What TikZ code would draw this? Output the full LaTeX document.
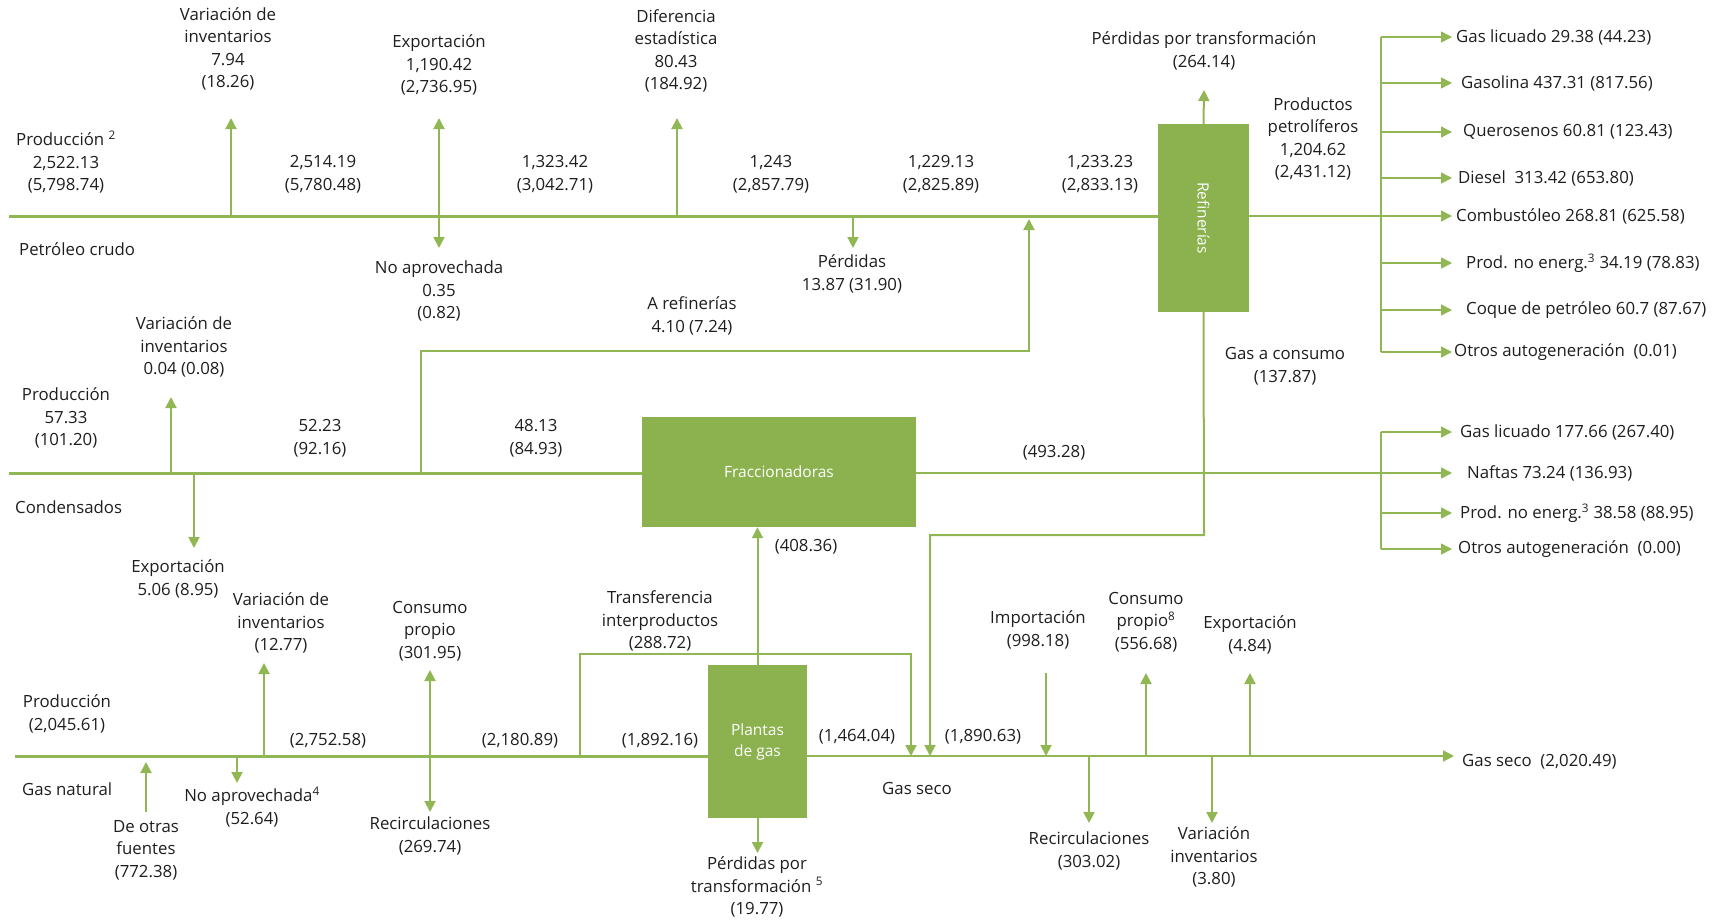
\documentclass[tikz,border=0pt]{standalone}
\usepackage{fontspec}
\setmainfont{Open Sans}
\usetikzlibrary{arrows.meta}
\definecolor{gline}{RGB}{144,183,84}
\definecolor{gbox}{RGB}{139,178,78}
\definecolor{txt}{RGB}{30,30,30}
\begin{document}
\begin{tikzpicture}[x=1pt,y=-1pt,
  lab/.style={font=\fontsize{16.8}{22.5}\selectfont, text=txt, align=center, inner sep=0pt},
  labw/.style={lab, anchor=west},
  mainln/.style={draw=gline, line width=3pt},
  midln/.style={draw=gline, line width=2pt},
  thinln/.style={draw=gline, line width=1.5pt},
  arr/.style={-{Triangle[width=11pt,length=11pt]}},
  box/.style={fill=gbox, draw=none, inner sep=0pt},
  boxtxt/.style={text=white, font=\fontsize{15.5}{21}\selectfont, align=center, inner sep=0pt}
]
\useasboundingbox (0,0) rectangle (1730,921);

% ---------- boxes ----------
\node[box, minimum width=91pt, minimum height=188pt] (ref) at (1203.5,218) {};
\node[boxtxt, rotate=-90] (reft) at (ref.center) {Refinerías};
\node[box, minimum width=274pt, minimum height=110pt] (fr) at (779,472) {};
\node[boxtxt] (frt) at (fr.center) {Fraccionadoras};
\node[box, minimum width=99pt, minimum height=153pt] (pl) at (757.5,741.5) {};
\node[boxtxt] (plt) at (pl.center) {Plantas\\de gas};

% ---------- crude oil ----------
\coordinate (c0) at (9,216);
\coordinate (cvi) at (231,216);  \coordinate (cviT) at (231,118);
\coordinate (cex) at (439,216);  \coordinate (cexT) at (439,118); \coordinate (cexB) at (439,248);
\coordinate (cdf) at (677,216);  \coordinate (cdfT) at (677,118);
\coordinate (cpe) at (853,216);  \coordinate (cpeB) at (853,248);
\coordinate (rtip) at (1452,0);
\coordinate (rbx) at (1381,0);
\coordinate (pptT) at (1204,90);

\draw[mainln] (c0) -- (ref.west |- c0);
\draw[midln,arr] (cvi) -- (cviT);
\draw[midln,arr] (cex) -- (cexT);
\draw[midln,arr] (cex) -- (cexB);
\draw[midln,arr] (cdf) -- (cdfT);
\draw[midln,arr] (cpe) -- (cpeB);
\draw[midln,arr] (ref.north) -- (pptT);

\node[lab] (l_vi1) at (228,49) {Variación de\\inventarios\\7.94\\(18.26)};
\node[lab] (l_ex1) at (439,65) {Exportación\\1,190.42\\(2,736.95)};
\node[lab] (l_na1) at (439,291) {No aprovechada\\0.35\\(0.82)};
\node[lab] (l_dif) at (676,51) {Diferencia\\estadística\\80.43\\(184.92)};
\node[lab] (l_pr1) at (66,162) {Producción \textsuperscript{2}\\2,522.13\\(5,798.74)};
\node[lab] (l_f1) at (323,174) {2,514.19\\(5,780.48)};
\node[lab] (l_f2) at (555,174) {1,323.42\\(3,042.71)};
\node[lab] (l_f3) at (771,174) {1,243\\(2,857.79)};
\node[lab] (l_f4) at (941,174) {1,229.13\\(2,825.89)};
\node[lab] (l_f5) at (1100,174) {1,233.23\\(2,833.13)};
\node[labw] (l_pc) at (19,249) {Petróleo crudo};
\node[lab] (l_pe) at (852,274) {Pérdidas\\13.87 (31.90)};
\node[lab] (l_ar) at (692,316) {A refinerías\\4.10 (7.24)};
\node[lab] (l_ppt) at (1204,51) {Pérdidas por transformación\\(264.14)};
\node[lab] (l_pp) at (1313,139) {Productos\\petrolíferos\\1,204.62\\(2,431.12)};
\node[lab] (l_gc) at (1285,366) {Gas a consumo\\(137.87)};

% refinery outputs
\node[labw] (o1) at (1456,37)  {Gas licuado 29.38 (44.23)};
\node[labw] (o2) at (1461,83)  {Gasolina 437.31 (817.56)};
\node[labw] (o3) at (1463,132) {Querosenos 60.81 (123.43)};
\node[labw] (o4) at (1458,178) {Diesel\ \ 313.42 (653.80)};
\node[labw] (o5) at (1456,216) {Combustóleo 268.81 (625.58)};
\node[labw] (o6) at (1466,263) {Prod. no energ.\textsuperscript{3} 34.19 (78.83)};
\node[labw] (o7) at (1466,310) {Coque de petróleo 60.7 (87.67)};
\node[labw] (o8) at (1454,352) {Otros autogeneración\ \ (0.01)};

\draw[thinln,arr] (ref.east |- c0) -- (rtip |- c0);
\draw[thinln] (rbx |- o1.west) -- (rbx |- o8.west);
\foreach \o in {o1,o2,o3,o4,o6,o7,o8}{
  \draw[thinln,arr] (rbx |- \o.west) -- (rtip |- \o.west);
}

% ---------- condensados ----------
\coordinate (k0) at (9,473);
\coordinate (kvi) at (171,473); \coordinate (kviT) at (171,397);
\coordinate (kex) at (194,473); \coordinate (kexB) at (194,548);
\coordinate (kar) at (421,473); \coordinate (kar1) at (421,351);
\coordinate (kar2) at (1029,351); \coordinate (karT) at (1029,219);
\coordinate (gc1) at (1204,535); \coordinate (gc2) at (930,535);

\draw[mainln] (k0) -- (fr.west |- k0);
\draw[midln,arr] (kvi) -- (kviT);
\draw[midln,arr] (kex) -- (kexB);
\draw[midln,arr] (kar) -- (kar1) -- (kar2) -- (karT);
\draw[thinln,arr] (fr.east |- k0) -- (rtip |- k0);

\node[lab] (l_pr2) at (66,418) {Producción\\57.33\\(101.20)};
\node[lab] (l_vi2) at (184,347) {Variación de\\inventarios\\0.04 (0.08)};
\node[lab] (l_k1) at (320,438) {52.23\\(92.16)};
\node[lab] (l_k2) at (536,438) {48.13\\(84.93)};
\node[labw] (l_cd) at (15,507) {Condensados};
\node[lab] (l_ex2) at (178,579) {Exportación\\5.06 (8.95)};
\node[lab] (l_k3) at (1054,453) {(493.28)};

\node[labw] (p1) at (1460,432) {Gas licuado 177.66 (267.40)};
\node[labw] (p2) at (1467,473) {Naftas 73.24 (136.93)};
\node[labw] (p3) at (1460,513) {Prod. no energ.\textsuperscript{3} 38.58 (88.95)};
\node[labw] (p4) at (1458,549) {Otros autogeneración\ \ (0.00)};
\draw[thinln] (rbx |- p1.west) -- (rbx |- p4.west);
\foreach \o in {p1,p3,p4}{
  \draw[thinln,arr] (rbx |- \o.west) -- (rtip |- \o.west);
}

% ---------- gas natural ----------
\coordinate (g0) at (15,756);
\coordinate (gtip) at (1454,756);
\coordinate (gdo) at (146,812);  \coordinate (gdoT) at (146,762);
\coordinate (gna) at (237,756);  \coordinate (gnaB) at (237,783);
\coordinate (gvi) at (264,756);  \coordinate (gviT) at (264,663);
\coordinate (gcp) at (430,756);  \coordinate (gcpT) at (430,670); \coordinate (gcpB) at (430,812);
\coordinate (gtr) at (580,756);  \coordinate (gtr1) at (580,654);
\coordinate (gtr2) at (911,654); \coordinate (gtrT) at (911,756);
\coordinate (gcT) at (930,756);
\coordinate (gppB) at (757.5,853);
\coordinate (gim) at (1046,673); \coordinate (gimT) at (1046,756);
\coordinate (grc) at (1089,756); \coordinate (grcB) at (1089,823);
\coordinate (gc8) at (1146,756); \coordinate (gc8T) at (1146,673);
\coordinate (gv2) at (1212,756); \coordinate (gv2B) at (1212,823);
\coordinate (gx) at (1250,756);  \coordinate (gxT) at (1250,673);

\draw[mainln] (g0) -- (pl.west |- g0);
\draw[midln,arr] (pl.east |- g0) -- (gtip);
\draw[midln,arr] (gdo) -- (gdoT);
\draw[midln,arr] (gna) -- (gnaB);
\draw[midln,arr] (gvi) -- (gviT);
\draw[midln,arr] (gcp) -- (gcpT);
\draw[midln,arr] (gcp) -- (gcpB);
\draw[midln,arr] (gtr) -- (gtr1) -- (gtr2) -- (gtrT);
\draw[midln,arr] (ref.south) -- (gc1) -- (gc2) -- (gcT);
\draw[midln,arr] (pl.north) -- (pl.north |- fr.south);
\draw[midln,arr] (pl.south) -- (gppB);
\draw[midln,arr] (gim) -- (gimT);
\draw[midln,arr] (grc) -- (grcB);
\draw[midln,arr] (gc8) -- (gc8T);
\draw[midln,arr] (gv2) -- (gv2B);
\draw[midln,arr] (gx) -- (gxT);

\node[lab] (l_pr3) at (67,714) {Producción\\(2,045.61)};
\node[labw] (l_gn) at (22,789) {Gas natural};
\node[lab] (l_do) at (146,850) {De otras\\fuentes\\(772.38)};
\node[lab] (l_na3) at (252,807) {No aprovechada\textsuperscript{4}\\(52.64)};
\node[lab] (l_vi3) at (281,623) {Variación de\\inventarios\\(12.77)};
\node[lab] (l_g1) at (328,741) {(2,752.58)};
\node[lab] (l_cp) at (430,631) {Consumo\\propio\\(301.95)};
\node[lab] (l_rc) at (430,836) {Recirculaciones\\(269.74)};
\node[lab] (l_g2) at (520,741) {(2,180.89)};
\node[lab] (l_tr) at (660,621) {Transferencia\\interproductos\\(288.72)};
\node[lab] (l_g3) at (660,741) {(1,892.16)};
\node[lab] (l_408) at (806,547) {(408.36)};
\node[lab] (l_pp5) at (757,887) {Pérdidas por\\transformación \textsuperscript{5}\\(19.77)};
\node[lab] (l_g4) at (857,737) {(1,464.04)};
\node[lab] (l_gs) at (917,788) {Gas seco};
\node[lab] (l_g5) at (983,737) {(1,890.63)};
\node[lab] (l_im) at (1038,630) {Importación\\(998.18)};
\node[lab] (l_c8) at (1146,622) {Consumo\\propio\textsuperscript{8}\\(556.68)};
\node[lab] (l_ex3) at (1250,635) {Exportación\\(4.84)};
\node[lab] (l_rc2) at (1089,851) {Recirculaciones\\(303.02)};
\node[lab] (l_v2) at (1214,857) {Variación\\inventarios\\(3.80)};
\node[labw] (l_gsf) at (1462,762) {Gas seco\ \ (2,020.49)};
\end{tikzpicture}
\end{document}
